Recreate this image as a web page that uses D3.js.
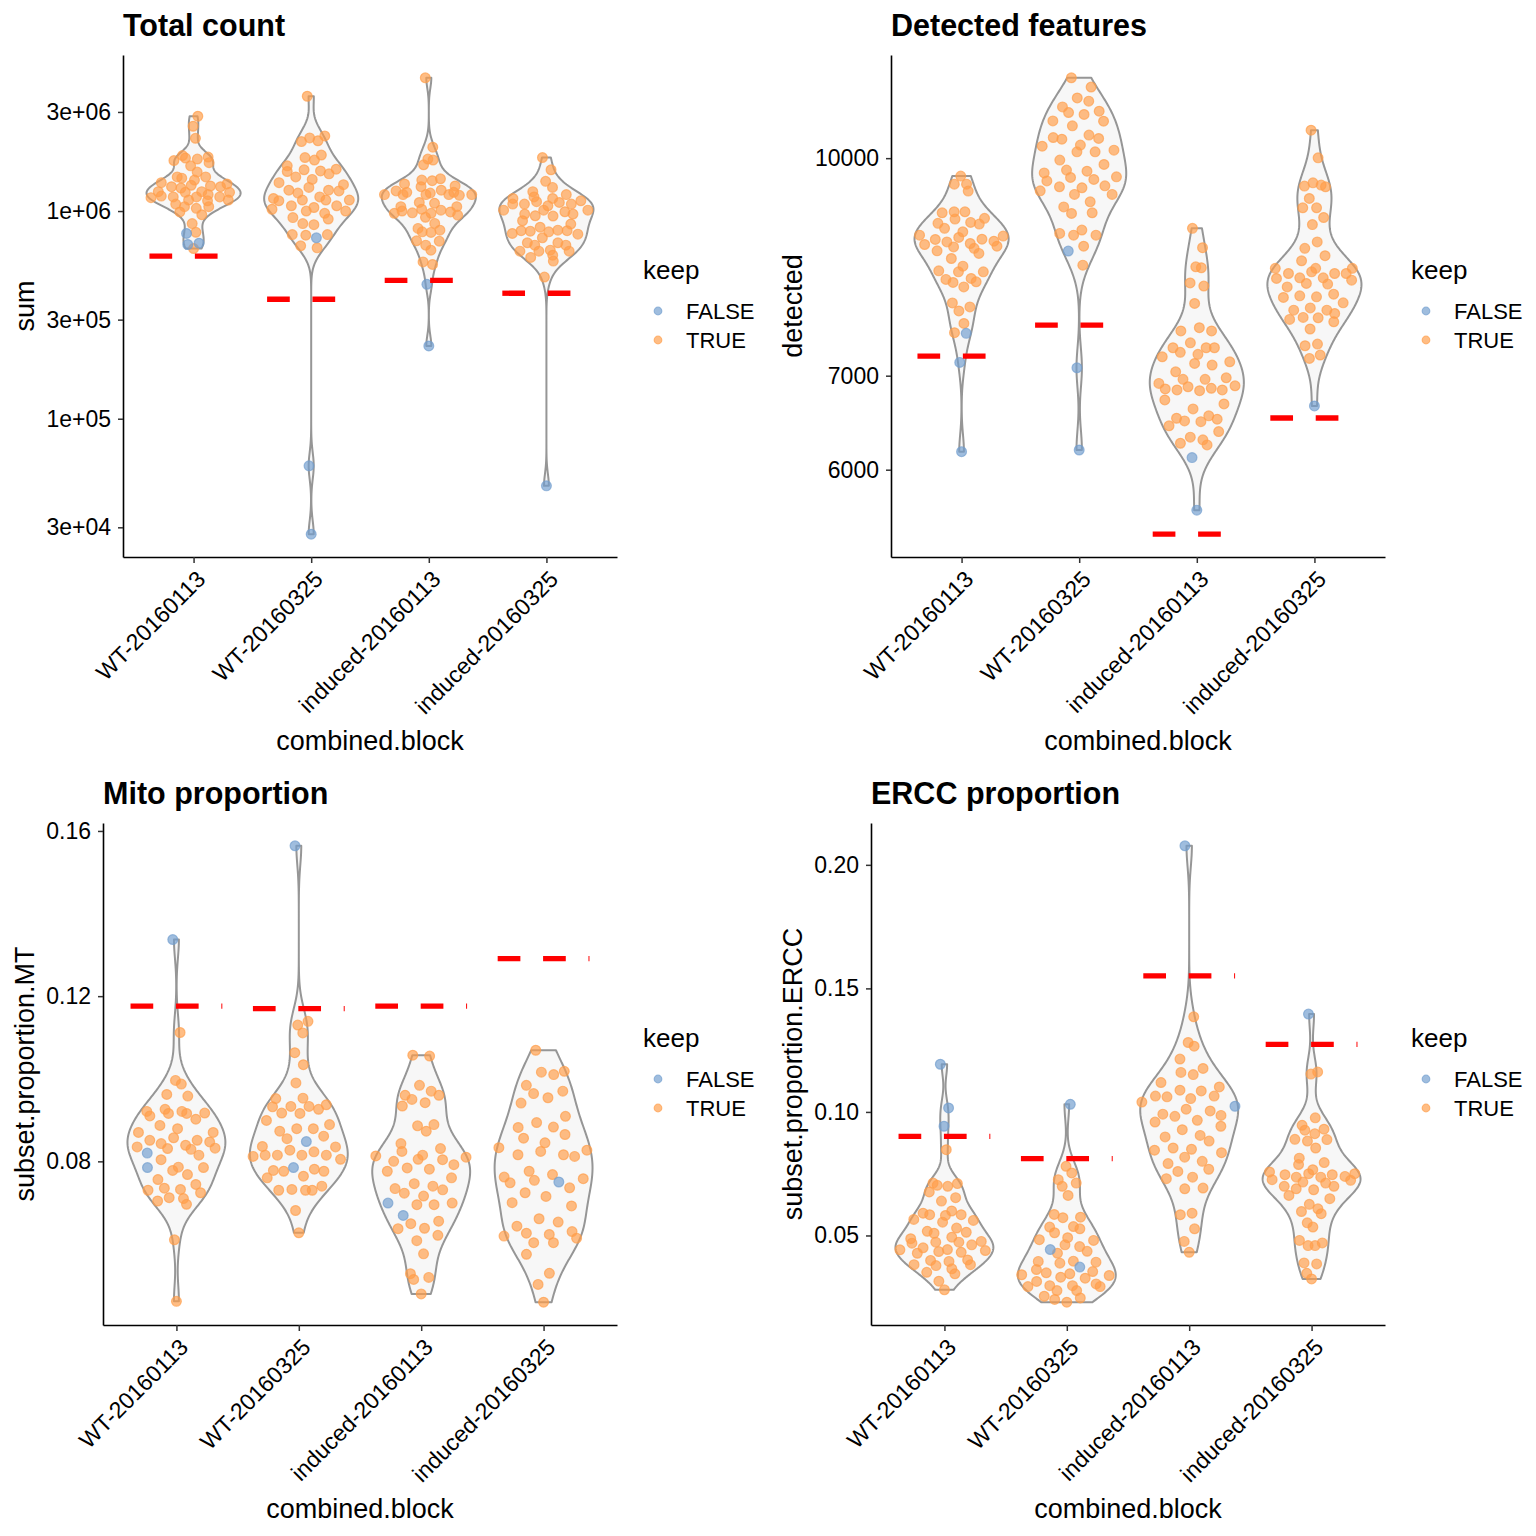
<!DOCTYPE html>
<html>
<head>
<meta charset="utf-8">
<script src="https://cdn.jsdelivr.net/npm/d3@7"></script>
<style>
  body { margin: 0; background: #fff; }
  svg { font-family: "Liberation Sans", Arial, Helvetica, sans-serif; }
</style>
</head>
<body>
<svg id="chart" width="1536" height="1536"></svg>
<script>
// QC violins per block: kept cells (TRUE), discarded cells (FALSE) and the outlier threshold.
const blocks = ["WT-20160113", "WT-20160325", "induced-20160113", "induced-20160325"];

// ---- Total count (sum) ----
const sumKeep = [
  [2.86e6, 2.56e6, 2.24e6, 1.75e6, 1.82e6, 1.65e6, 1.78e6, 1.85e6, 1.80e6, 1.71e6, 1.46e6, 1.44e6, 1.54e6, 1.46e6, 1.41e6,
   1.33e6, 1.31e6, 1.29e6, 1.24e6, 1.32e6, 1.31e6, 1.35e6, 1.37e6, 1.24e6, 1.18e6, 1.16e6, 1.17e6, 1.13e6, 1.17e6, 1.23e6,
   1.20e6, 1.17e6, 1.23e6, 1.13e6, 1.08e6, 1.05e6, 1.12e6, 1.05e6, 1.03e6, 9.9e5, 9.6e5, 8.7e5, 7.9e5, 6.6e5],
  [3.57e6, 2.16e6, 2.25e6, 2.18e6, 2.30e6, 1.81e6, 1.76e6, 1.86e6, 1.65e6, 1.55e6, 1.46e6, 1.58e6, 1.42e6, 1.56e6, 1.51e6,
   1.59e6, 1.37e6, 1.30e6, 1.26e6, 1.22e6, 1.26e6, 1.25e6, 1.34e6, 1.15e6, 1.12e6, 1.13e6, 1.17e6, 1.13e6, 1.13e6, 1.06e6,
   1.04e6, 1.06e6, 1.02e6, 1.00e6, 1.00e6, 9.75e5, 9.3e5, 9.15e5, 8.7e5, 8.6e5, 7.7e5, 7.65e5, 7.7e5, 6.8e5, 6.65e5],
  [4.38e6, 2.03e6, 1.67e6, 1.78e6, 1.76e6, 1.41e6, 1.40e6, 1.43e6, 1.31e6, 1.32e6, 1.20e6, 1.35e6, 1.25e6, 1.20e6, 1.23e6,
   1.20e6, 1.22e6, 1.26e6, 1.20e6, 1.23e6, 1.19e6, 1.20e6, 1.05e6, 1.10e6, 1.09e6, 1.05e6, 9.9e5, 9.75e5, 1.02e6, 9.8e5,
   1.01e6, 1.00e6, 9.56e5, 9.75e5, 9.33e5, 8.72e5, 8.25e5, 7.94e5, 7.89e5, 8.09e5, 7.19e5, 7.16e5, 6.85e5, 6.48e5, 5.69e5, 5.53e5],
  [1.81e6, 1.58e6, 1.39e6, 1.30e6, 1.24e6, 1.17e6, 1.11e6, 1.15e6, 1.08e6, 1.08e6, 1.06e6, 1.15e6, 1.10e6, 1.20e6, 1.08e6,
   1.12e6, 1.01e6, 9.67e5, 9.49e5, 1.01e6, 9.46e5, 9.92e5, 9.67e5, 1.01e6, 8.98e5, 8.66e5, 7.8e5, 8.0e5, 8.04e5, 8.36e5,
   7.94e5, 8.09e5, 8.04e5, 7.74e5, 7.43e5, 7.03e5, 6.85e5, 6.41e5, 6.41e5, 6.48e5, 7.03e5, 6.85e5, 6.41e5, 6.13e5, 5.74e5, 5.98e5, 4.81e5]
];
const sumDrop = [[7.8e5, 6.9e5, 7.0e5], [7.43e5, 5.93e4, 2.78e4], [4.44e5, 2.24e5], [4.75e4]];
const sumThresh = [6.06e5, 3.76e5, 4.64e5, 4.02e5];
const sumTicks = [3e4, 1e5, 3e5, 1e6, 3e6];
const sumTickLabels = ["3e+04", "1e+05", "3e+05", "1e+06", "3e+06"];

// ---- Detected features ----
const detKeep = [
  [9710, 9583, 9583, 9474, 9158, 9143, 9049, 8913, 8986, 9060, 8975, 9158, 9000, 8781, 8646, 8717, 8814, 8680, 8590, 8752,
   8800, 8656, 8554, 8727, 8862, 8694, 8625, 8756, 8483, 8377, 8299, 8313, 8210, 8165, 8097, 8197, 8156, 8299, 7836, 7887,
   7784, 7626, 7511],
  [11408, 11237, 11038, 10980, 10877, 10777, 10743, 10800, 10625, 10630, 10544, 10344, 10316, 10216, 10104, 10385, 10328,
   10104, 10132, 10198, 9968, 9806, 9689, 9761, 9634, 9788, 9657, 9897, 9698, 9541, 9526, 9556, 9423, 9478, 9423, 9232,
   9133, 9309, 9143, 8839, 8814, 8888, 8814, 8656, 8391],
  [8913, 8634, 8368, 8355, 8150, 8108, 7880, 7533, 7573, 7533, 7328, 7273, 7387, 7249, 7328, 7328, 7142, 7220, 7161, 7123,
   7045, 6912, 6849, 6838, 6958, 6874, 6830, 6958, 6857, 6838, 6976, 6885, 6727, 6683, 6629, 6528, 6500, 6492, 6554, 6518,
   6448, 6387, 6329, 6266, 6301, 6249],
  [10469, 10005, 9552, 9603, 9568, 9541, 9361, 9218, 9218, 9073, 8968, 8717, 8625, 8522, 8451, 8347, 8210, 8097, 8277, 8218,
   8143, 8299, 8347, 8218, 8134, 8277, 8277, 8187, 8347, 7958, 7979, 7966, 8001, 7888, 7677, 7794, 7702, 7823, 7697, 7794,
   7752, 7647, 7557, 7352, 7372, 7201, 7241]
];
const detDrop = [[7503, 7154, 6180], [8587, 7091, 6197], [6120, 5615], [6661]];
const detThresh = [7228, 7606, 5398, 6531];
const detTicks = [6000, 7000, 10000];
const detTickLabels = ["6000", "7000", "10000"];

// ---- Mito proportion ----
const mitoKeep = [
  [0.1112, 0.0996, 0.0987, 0.0962, 0.0958, 0.0921, 0.0910, 0.0926, 0.0916, 0.0921, 0.0916, 0.0902, 0.0917, 0.0887, 0.0870,
   0.0879, 0.0857, 0.0851, 0.0843, 0.0832, 0.0839, 0.0829, 0.0851, 0.0847, 0.0831, 0.0870, 0.0835, 0.0815, 0.0804, 0.0778,
   0.0786, 0.0768, 0.0785, 0.0756, 0.0744, 0.0724, 0.0735, 0.0732, 0.0730, 0.0712, 0.0710, 0.0704, 0.0696, 0.0610, 0.0461],
  [0.1130, 0.1139, 0.1111, 0.1063, 0.1034, 0.0990, 0.0952, 0.0932, 0.0917, 0.0933, 0.0916, 0.0953, 0.0933, 0.0926, 0.0937,
   0.0899, 0.0873, 0.0855, 0.0879, 0.0879, 0.0861, 0.0889, 0.0836, 0.0812, 0.0815, 0.0815, 0.0827, 0.0815, 0.0823, 0.0815,
   0.0835, 0.0805, 0.0760, 0.0778, 0.0776, 0.0764, 0.0781, 0.0776, 0.0740, 0.0730, 0.0732, 0.0730, 0.0730, 0.0681, 0.0627],
  [0.1057, 0.1055, 0.0984, 0.0970, 0.0960, 0.0950, 0.0960, 0.0942, 0.0934, 0.0886, 0.0889, 0.0873, 0.0843, 0.0824, 0.0813,
   0.0815, 0.0805, 0.0831, 0.0804, 0.0810, 0.0800, 0.0792, 0.0784, 0.0781, 0.0776, 0.0760, 0.0746, 0.0734, 0.0723, 0.0740,
   0.0731, 0.0716, 0.0695, 0.0695, 0.0699, 0.0655, 0.0637, 0.0649, 0.0638, 0.0621, 0.0608, 0.0576, 0.0528, 0.0514, 0.0519, 0.0479],
  [0.1069, 0.1016, 0.1010, 0.1018, 0.0984, 0.0964, 0.0954, 0.0970, 0.0941, 0.0909, 0.0894, 0.0883, 0.0882, 0.0865, 0.0856,
   0.0845, 0.0824, 0.0833, 0.0816, 0.0816, 0.0812, 0.0827, 0.0776, 0.0768, 0.0762, 0.0748, 0.0754, 0.0758, 0.0736, 0.0724,
   0.0715, 0.0700, 0.0692, 0.0661, 0.0653, 0.0643, 0.0626, 0.0619, 0.0603, 0.0623, 0.0603, 0.0630, 0.0614, 0.0575, 0.0529,
   0.0502, 0.0459]
];
const mitoDrop = [[0.1337, 0.0820, 0.0785], [0.1564, 0.0848, 0.0785], [0.0699, 0.0669], [0.0750]];
const mitoThresh = [0.1176, 0.1170, 0.1176, 0.1291];
const mitoTicks = [0.08, 0.12, 0.16];
const mitoTickLabels = ["0.08", "0.12", "0.16"];

// ---- ERCC proportion ----
const erccKeep = [
  [0.0847, 0.0712, 0.0703, 0.0699, 0.0710, 0.0676, 0.0653, 0.0639, 0.0590, 0.0584, 0.0581, 0.0599, 0.0584, 0.0565, 0.0554,
   0.0561, 0.0517, 0.0509, 0.0530, 0.0493, 0.0513, 0.0487, 0.0473, 0.0469, 0.0473, 0.0462, 0.0476, 0.0442, 0.0428, 0.0450,
   0.0435, 0.0443, 0.0432, 0.0439, 0.0399, 0.0378, 0.0395, 0.0401, 0.0382, 0.0382, 0.0365, 0.0345, 0.0351, 0.0315, 0.0280],
  [0.0780, 0.0753, 0.0712, 0.0726, 0.0699, 0.0662, 0.0574, 0.0585, 0.0572, 0.0527, 0.0536, 0.0534, 0.0511, 0.0491, 0.0483,
   0.0480, 0.0455, 0.0436, 0.0462, 0.0428, 0.0392, 0.0396, 0.0395, 0.0388, 0.0341, 0.0354, 0.0345, 0.0331, 0.0362, 0.0327,
   0.0349, 0.0338, 0.0293, 0.0314, 0.0297, 0.0277, 0.0297, 0.0277, 0.0304, 0.0293, 0.0254, 0.0241, 0.0230, 0.0247],
  [0.1385, 0.1281, 0.1266, 0.1214, 0.1160, 0.1151, 0.1176, 0.1119, 0.1088, 0.1085, 0.1101, 0.1064, 0.1061, 0.1054, 0.1064,
   0.1040, 0.0991, 0.0982, 0.1011, 0.1004, 0.0986, 0.0959, 0.0966, 0.0942, 0.0928, 0.0899, 0.0905, 0.0882, 0.0845, 0.0854,
   0.0849, 0.0835, 0.0817, 0.0800, 0.0791, 0.0768, 0.0759, 0.0736, 0.0730, 0.0689, 0.0692, 0.0584, 0.0590, 0.0527, 0.0476, 0.0432],
  [0.1153, 0.1162, 0.0976, 0.0946, 0.0926, 0.0912, 0.0930, 0.0889, 0.0882, 0.0888, 0.0854, 0.0813, 0.0787, 0.0795, 0.0757,
   0.0726, 0.0746, 0.0739, 0.0716, 0.0750, 0.0766, 0.0736, 0.0712, 0.0746, 0.0736, 0.0723, 0.0750, 0.0699, 0.0689, 0.0685,
   0.0699, 0.0662, 0.0649, 0.0626, 0.0597, 0.0608, 0.0588, 0.0551, 0.0534, 0.0480, 0.0459, 0.0459, 0.0470, 0.0389, 0.0385,
   0.0347, 0.0324]
];
const erccDrop = [[0.1193, 0.1016, 0.0942], [0.1031, 0.0443, 0.0372], [0.2077, 0.1023], [0.1396]];
const erccThresh = [0.0901, 0.0811, 0.1551, 0.1273];
const erccTicks = [0.05, 0.10, 0.15, 0.20];
const erccTickLabels = ["0.05", "0.10", "0.15", "0.20"];

const keepColors = { FALSE: "#729ECE", TRUE: "#FF9E4A" };

// layout of the 2x2 grid (left, top of each cell; plot box inside it)
const panels = [
  { title: "Total count", yTitle: "sum", keep: sumKeep, drop: sumDrop, thr: sumThresh, ticks: sumTicks, labels: sumTickLabels,
    log: true, left: 0, top: 0, x0: 123, x1: 617 },
  { title: "Detected features", yTitle: "detected", keep: detKeep, drop: detDrop, thr: detThresh, ticks: detTicks, labels: detTickLabels,
    log: true, left: 768, top: 0, x0: 891, x1: 1385 },
  { title: "Mito proportion", yTitle: "subset.proportion.MT", keep: mitoKeep, drop: mitoDrop, thr: mitoThresh, ticks: mitoTicks, labels: mitoTickLabels,
    log: false, left: 0, top: 768, x0: 103, x1: 617 },
  { title: "ERCC proportion", yTitle: "subset.proportion.ERCC", keep: erccKeep, drop: erccDrop, thr: erccThresh, ticks: erccTicks, labels: erccTickLabels,
    log: false, left: 768, top: 768, x0: 871, x1: 1385 }
];

const svg = d3.select("#chart");
svg.append("rect").attr("width", 1536).attr("height", 1536).attr("fill", "#fff");

// van der Corput sequence (quasirandom point spreading, as ggbeeswarm does)
function vdc(i) { let r = 0, f = 0.5; while (i > 0) { r += f * (i & 1); i >>= 1; f /= 2; } return r; }

function bwNrd0(v) {
  const s = v.slice().sort(d3.ascending);
  const sd = d3.deviation(s) || 0, iqr = d3.quantile(s, 0.75) - d3.quantile(s, 0.25);
  let lo = Math.min(sd, iqr / 1.34);
  if (!(lo > 0)) lo = sd || Math.abs(s[0]) || 1;
  return 0.9 * lo * Math.pow(s.length, -0.2);
}
const gaussKde = (v, bw) => (t) => d3.sum(v, (x) => Math.exp(-0.5 * ((t - x) / bw) ** 2));

function drawPanel(p) {
  const y0 = p.top + 55, y1 = p.top + 557;
  const g = svg.append("g");
  const tf = p.log ? Math.log10 : (v) => v;
  const inv = p.log ? (t) => Math.pow(10, t) : (t) => t;

  const allT = [].concat(...p.keep, ...p.drop, p.thr).map(tf);
  const [mn, mx] = d3.extent(allT), pad = (mx - mn) * 0.05;
  const y = (p.log ? d3.scaleLog() : d3.scaleLinear()).domain([inv(mn - pad), inv(mx + pad)]).range([y1, y0]);
  const x = d3.scalePoint().domain(blocks).range([p.x0, p.x1]).padding(0.6);
  const half = 0.4 * x.step();

  const violins = g.append("g"), dots = g.append("g"), lines = g.append("g");

  blocks.forEach((b, gi) => {
    const cells = p.keep[gi].map((v) => ({ v, k: "TRUE" })).concat(p.drop[gi].map((v) => ({ v, k: "FALSE" })));
    const ts = cells.map((c) => tf(c.v));
    const [lo, hi] = d3.extent(ts);
    const bw = bwNrd0(ts);
    const cx = x(b);

    // violin (trimmed, scaled to common width)
    const f = gaussKde(ts, bw);
    const grid = d3.range(257).map((i) => lo + (hi - lo) * i / 256);
    const dens = grid.map(f), dmax = d3.max(dens);
    const area = d3.area().y((d) => y(inv(d.t))).x0((d) => cx - d.w).x1((d) => cx + d.w);
    violins.append("path")
      .datum(grid.map((t, i) => ({ t, w: dens[i] / dmax * half })))
      .attr("d", area).attr("fill", "#f7f7f7").attr("stroke", "#969696").attr("stroke-width", 2)
      .attr("stroke-linejoin", "round");

    // quasirandom offsets from a narrower-bandwidth density
    const bw2 = bw * 0.5, f2 = gaussKde(ts, bw2);
    const grid2 = d3.range(257).map((i) => lo - 3 * bw2 + (hi - lo + 6 * bw2) * i / 256);
    const d2max = d3.max(grid2, f2);
    const order = d3.range(cells.length).sort((a, c) => ts[a] - ts[c] || a - c);
    const rank = []; order.forEach((ci, r) => { rank[ci] = r + 1; });
    cells.forEach((c, i) => { c.x = cx + (vdc(rank[i]) - 0.5) * 2 * f2(ts[i]) / d2max * half; });
    cells.sort((a, c) => (a.k === c.k ? 0 : a.k === "TRUE" ? -1 : 1));
    dots.selectAll(null).data(cells).join("circle")
      .attr("cx", (c) => c.x).attr("cy", (c) => y(c.v)).attr("r", 4.9)
      .attr("fill", (c) => keepColors[c.k]).attr("fill-opacity", 0.68)
      .attr("stroke", (c) => keepColors[c.k]).attr("stroke-opacity", 0.68).attr("stroke-width", 1.2);

    // threshold
    lines.append("line")
      .attr("x1", cx - 0.375 * x.step()).attr("x2", cx + 0.375 * x.step())
      .attr("y1", y(p.thr[gi])).attr("y2", y(p.thr[gi]))
      .attr("stroke", "#ff0000").attr("stroke-width", 5.3).attr("stroke-dasharray", "22.7 22.7");
  });

  // axes
  const ya = g.append("g").attr("transform", `translate(${p.x0},0)`)
    .call(d3.axisLeft(y).tickValues(p.ticks).tickFormat((d, i) => p.labels[i]).tickSize(5).tickSizeOuter(0).tickPadding(7));
  const xa = g.append("g").attr("transform", `translate(0,${y1})`)
    .call(d3.axisBottom(x).tickSize(6).tickSizeOuter(0));
  [ya, xa].forEach((a) => {
    a.select(".domain").attr("stroke", "#000").attr("stroke-width", 1.6);
    a.selectAll(".tick line").attr("stroke", "#333").attr("stroke-width", 1.5);
    a.selectAll("text").attr("fill", "#000").style("font-size", "23px").style("font-family", "'Liberation Sans', Arial, sans-serif");
  });
  xa.selectAll(".tick text")
    .attr("x", 0).attr("y", 0).attr("dy", "0.72em").attr("text-anchor", "end")
    .attr("transform", "translate(1,12) rotate(-45)");

  // titles
  g.append("text").attr("x", p.x0).attr("y", p.top + 36).attr("font-size", 30.5).attr("font-weight", "bold").text(p.title);
  g.append("text").attr("x", (p.x0 + p.x1) / 2).attr("y", p.top + 750).attr("text-anchor", "middle").attr("font-size", 27)
    .text("combined.block");
  g.append("text").attr("transform", `translate(${p.left + 34},${(y0 + y1) / 2}) rotate(-90)`)
    .attr("text-anchor", "middle").attr("font-size", 27).text(p.yTitle);

  // legend
  const lg = g.append("g").attr("transform", `translate(${p.x1 + 26},${p.top})`);
  lg.append("text").attr("x", 0).attr("y", 279).attr("font-size", 26).text("keep");
  ["FALSE", "TRUE"].forEach((k, i) => {
    const cy = 311 + i * 29;
    lg.append("circle").attr("cx", 15).attr("cy", cy).attr("r", 3.8)
      .attr("fill", keepColors[k]).attr("fill-opacity", 0.68)
      .attr("stroke", keepColors[k]).attr("stroke-opacity", 0.68).attr("stroke-width", 1.2);
    lg.append("text").attr("x", 43).attr("y", cy + 8).attr("font-size", 22).text(k);
  });
}

panels.forEach(drawPanel);
</script>
</body>
</html>
